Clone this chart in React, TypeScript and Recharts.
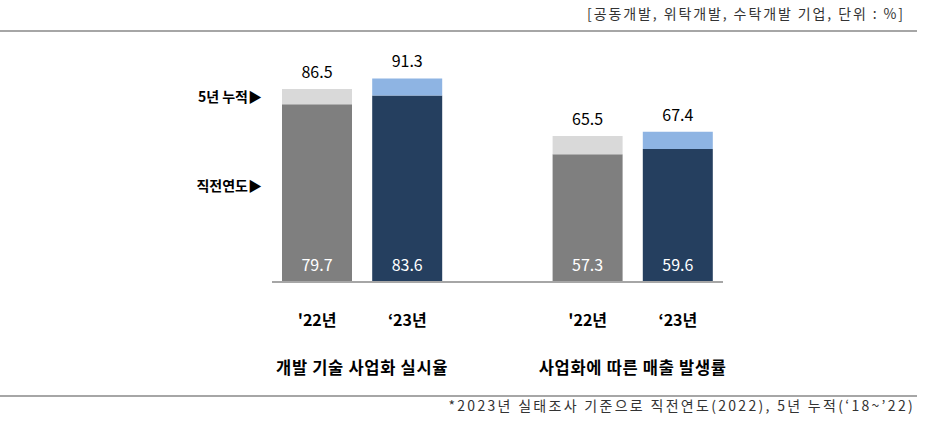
import React from "react";
import { BarChart, Bar, XAxis, YAxis, Cell, LabelList, ReferenceLine } from "recharts";

const categories = ["'22년", "‘23년", "", "'22년", "‘23년"];
const groupNames = ["개발 기술 사업화 실시율", "사업화에 따른 매출 발생률"];
const groupStartIndex = [0, 3];
const baseValues = [79.7, 83.6, null, 57.3, 59.6];
const totalValues = [86.5, 91.3, null, 65.5, 67.4];
const isLatestYear = [false, true, false, false, true];
const levelMarkers = [
  { label: "5년 누적▶", value: 83 },
  { label: "직전연도▶", value: 43 },
];
const unitNote = "[공동개발, 위탁개발, 수탁개발 기업, 단위 : %]";
const footnote = "*2023년 실태조사 기준으로 직전연도(2022), 5년 누적(‘18~’22)";

const data = categories.map((c, i) => ({
  name: c,
  base: baseValues[i],
  extra:
    baseValues[i] != null && totalValues[i] != null
      ? Math.round((totalValues[i]! - baseValues[i]!) * 10) / 10
      : null,
  total: totalValues[i],
}));

const FONT = "'Noto Sans CJK KR', 'Noto Sans', sans-serif";
const BAND = 90;

const Tick = (props: any) => {
  const { x, y, payload } = props;
  const idx = payload.index;
  const gi = groupStartIndex.indexOf(idx);
  return (
    <g>
      {payload.value ? (
        <text x={x} y={y} dy={36} textAnchor="middle" fontFamily={FONT} fontWeight={700} fontSize={16} fill="#000">
          {payload.value}
        </text>
      ) : null}
      {gi >= 0 ? (
        <text x={x + BAND / 2} y={y} dy={84} textAnchor="middle" fontFamily={FONT} fontWeight={700} fontSize={16.5} letterSpacing={0.7} fill="#000">
          {groupNames[gi]}
        </text>
      ) : null}
    </g>
  );
};

export default function App() {
  return (
    <div style={{ position: "absolute", left: 0, top: 0, width: 932, height: 423, background: "#fff", fontFamily: FONT }}>
      <div style={{ position: "absolute", right: 27, top: 3, fontSize: 14, letterSpacing: 1.9, color: "#333", whiteSpace: "nowrap" }}>{unitNote}</div>
      <div style={{ position: "absolute", left: 0, top: 30, width: 917, height: 2, background: "#a6a6a6" }} />
      <div style={{ position: "absolute", left: 0, top: 395, width: 917, height: 2, background: "#a6a6a6" }} />
      <div style={{ position: "absolute", right: 17, top: 395, fontSize: 14, letterSpacing: 2.3, color: "#333", whiteSpace: "nowrap" }}>{footnote}</div>
      <div style={{ position: "absolute", left: 0, top: 0 }}>
        <BarChart
          width={932}
          height={423}
          data={data}
          margin={{ top: 59, right: 209, bottom: 111, left: 272 }}
          barSize={70}
        >
          <XAxis
            dataKey="name"
            axisLine={{ stroke: "#a6a6a6", strokeWidth: 2 }}
            tickLine={false}
            tick={<Tick />}
            interval={0}
            height={30}
          />
          <YAxis hide domain={[0, 100]} width={0} />
          {levelMarkers.map((m) => (
            <ReferenceLine
              key={m.label}
              y={m.value}
              stroke="none"
              label={{
                value: m.label,
                position: "left",
                offset: 10,
                fontFamily: FONT,
                fontWeight: 700,
                fontSize: 14,
                fill: "#000",
              }}
            />
          ))}
          <Bar dataKey="base" stackId="a" isAnimationActive={false}>
            {data.map((d, i) => (
              <Cell key={i} fill={isLatestYear[i] ? "#253f5f" : "#7f7f7f"} />
            ))}
            <LabelList dataKey="base" position="insideBottom" offset={11} fill="#fff" fontSize={16} fontFamily={FONT} />
          </Bar>
          <Bar dataKey="extra" stackId="a" isAnimationActive={false}>
            {data.map((d, i) => (
              <Cell key={i} fill={isLatestYear[i] ? "#8eb4e3" : "#d9d9d9"} />
            ))}
            <LabelList dataKey="total" position="top" offset={11} fill="#000" fontSize={16} fontFamily={FONT} />
          </Bar>
        </BarChart>
      </div>
    </div>
  );
}
